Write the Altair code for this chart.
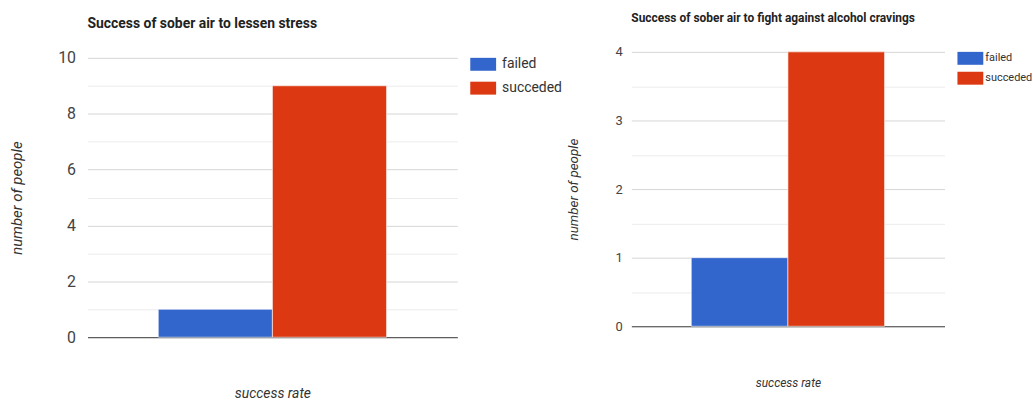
import altair as alt
import pandas as pd

# Survey results: how many people each outcome applied to
outcomes = ["failed", "succeded"]
bar_colors = ["#3366cc", "#dc3912"]
stress_counts = [1, 9]
cravings_counts = [1, 4]

stress_title = "Success of sober air to lessen stress"
cravings_title = "Success of sober air to fight against alcohol cravings"

stress_ticks = list(range(0, 11))
cravings_ticks = [0, 0.5, 1, 1.5, 2, 2.5, 3, 3.5, 4]

FONT = "Roboto, Arial, sans-serif"


def panel(counts, title, ticks, ymax, label_step, width, height, top_gap,
          title_size, title_offset, label_size, label_pad,
          ytitle_size, ytitle_pad, xtitle_size, xtitle_pad,
          legend_size, legend_row_pad, legend_x, legend_y, legend_label_offset):
    df = pd.DataFrame({"group": ["" for _ in outcomes],
                       "outcome": outcomes,
                       "count": counts})
    major = f"datum.value % {label_step} == 0"
    return alt.Chart(df).mark_bar(stroke="white", strokeWidth=0.6).encode(
        x=alt.X("group:N",
                scale=alt.Scale(paddingInner=0, paddingOuter=0.31),
                axis=alt.Axis(title="success rate", labels=False, ticks=False,
                              domain=False, titleFont=FONT, titleFontStyle="italic",
                              titleFontWeight="normal", titleFontSize=xtitle_size,
                              titleColor="#333", titlePadding=xtitle_pad)),
        xOffset=alt.XOffset("outcome:N", sort=outcomes,
                            scale=alt.Scale(paddingInner=0, paddingOuter=0)),
        y=alt.Y("count:Q",
                scale=alt.Scale(domain=[0, ymax], nice=False,
                                range=[height, top_gap]),
                axis=alt.Axis(values=ticks, title="number of people",
                              labelExpr=f"{major} ? format(datum.value, 'd') : ''",
                              ticks=False, domain=False, labelPadding=label_pad,
                              labelFont=FONT, labelFontSize=label_size, labelColor="#444",
                              titleFont=FONT, titleFontStyle="italic",
                              titleFontWeight="normal", titleFontSize=ytitle_size,
                              titleColor="#333", titlePadding=ytitle_pad,
                              gridColor={"condition": [
                                  {"test": "datum.value == 0", "value": "#333333"},
                                  {"test": major, "value": "#d6d6d6"}],
                                  "value": "#ececec"},
                              gridWidth=1)),
        color=alt.Color("outcome:N", sort=outcomes,
                        scale=alt.Scale(domain=outcomes, range=bar_colors),
                        legend=alt.Legend(title=None, orient="none",
                                          legendX=legend_x, legendY=legend_y,
                                          symbolType="M-1,-0.5H1V0.5H-1Z",
                                          symbolSize=676, symbolStrokeWidth=0,
                                          symbolOpacity=1,
                                          labelFont=FONT, labelFontSize=legend_size,
                                          labelColor="#333",
                                          labelOffset=legend_label_offset,
                                          rowPadding=legend_row_pad)),
    ).properties(
        width=width, height=height,
        title=alt.TitleParams(title, anchor="start", frame="group", font=FONT,
                              fontSize=title_size, fontWeight="bold", color="#222",
                              offset=title_offset),
    )


left = panel(stress_counts, stress_title, stress_ticks, 10, 2,
             width=372, height=287, top_gap=6,
             title_size=14, title_offset=19, label_size=16, label_pad=12,
             ytitle_size=15, ytitle_pad=33, xtitle_size=14, xtitle_pad=50,
             legend_size=14, legend_row_pad=4, legend_x=385, legend_y=-0.5,
             legend_label_offset=6)
right = panel(cravings_counts, cravings_title, cravings_ticks, 4, 1,
              width=315, height=276, top_gap=0,
              title_size=12, title_offset=21, label_size=13, label_pad=9,
              ytitle_size=13.5, ytitle_pad=35, xtitle_size=12, xtitle_pad=52,
              legend_size=11, legend_row_pad=0, legend_x=328, legend_y=-6.5,
              legend_label_offset=2)

chart = alt.hconcat(left, right, spacing=3).resolve_scale(
    color="independent", y="independent", x="independent", xOffset="independent"
).properties(
    padding={"left": 10, "top": 10, "right": 0, "bottom": 0},
    background="white",
).configure_view(stroke=None)

chart.save("out.html", embed_options={"renderer": "svg", "actions": False})
